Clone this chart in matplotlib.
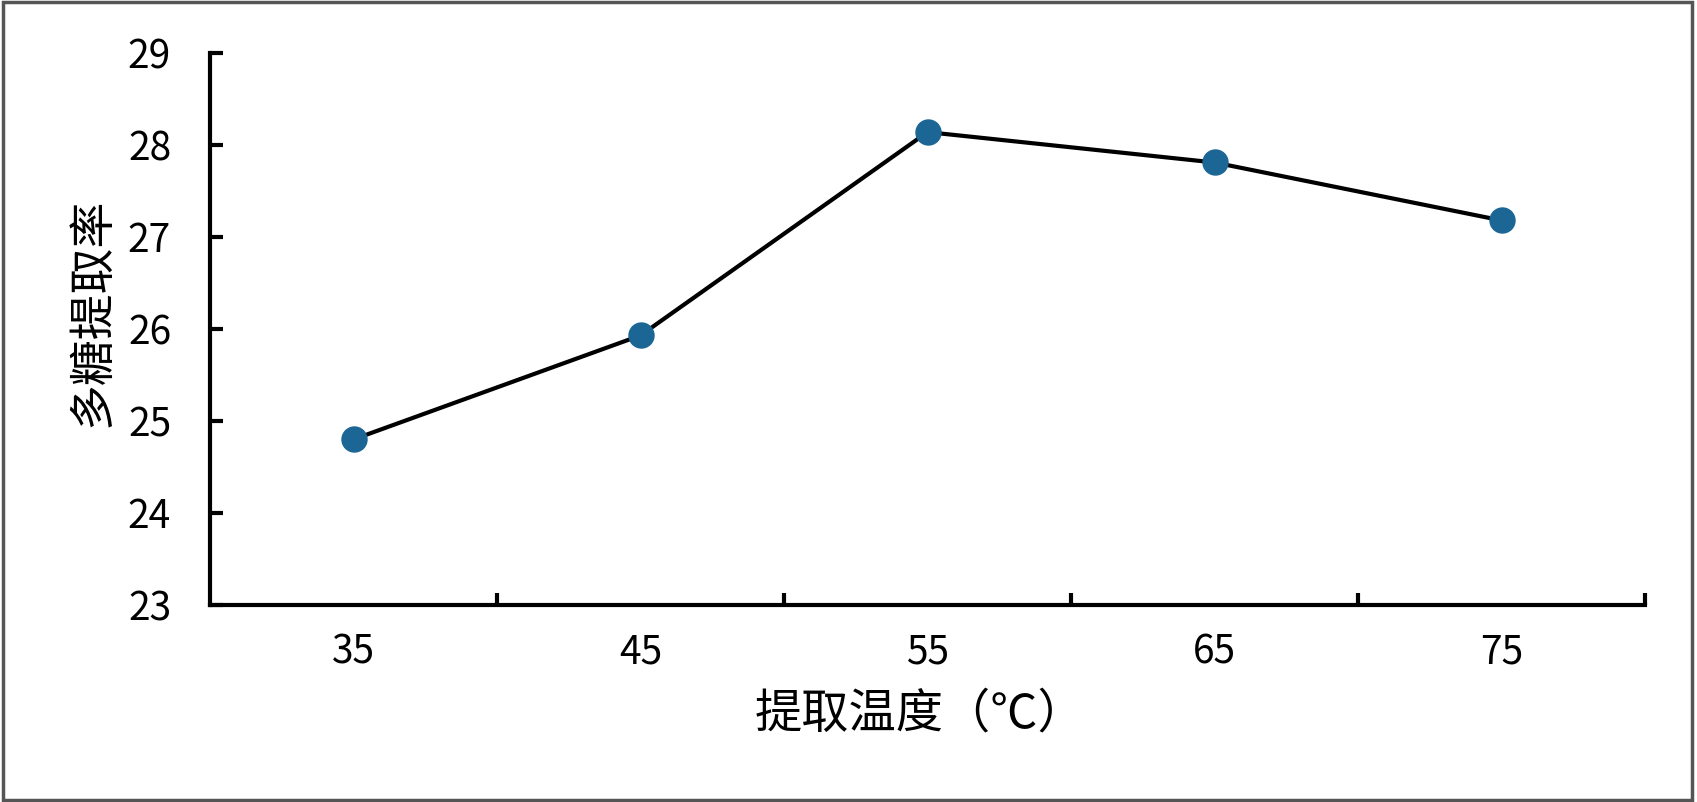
import matplotlib
matplotlib.use("Agg")
import matplotlib.pyplot as plt
from matplotlib.patches import Rectangle

plt.rcParams['font.family'] = ['Noto Sans CJK SC', 'DejaVu Sans']
plt.rcParams['font.weight'] = 'light'

categories = ["35", "45", "55", "65", "75"]
values = [24.80, 25.93, 28.14, 27.81, 27.18]
y_ticks = [23, 24, 25, 26, 27, 28, 29]
x_label = "提取温度（℃）"
y_label = "多糖提取率"

W, H = 1697, 802
fig = plt.figure(figsize=(W / 100, H / 100), dpi=100)
ax = fig.add_axes([210 / W, 1 - 605 / H, (1645 - 210) / W, (605 - 53) / H])

x = list(range(len(categories)))
ax.plot(x, values, color="black", lw=3.0, marker="o", markersize=18,
        markerfacecolor="#1b6694", markeredgecolor="#1b6694", zorder=3)

ax.set_xlim(-0.5, len(categories) - 0.5)
ax.set_ylim(y_ticks[0], y_ticks[-1])
ax.set_yticks(y_ticks)
ax.set_yticklabels([str(t) for t in y_ticks])

# category labels at centers (no tick marks), tick marks at boundaries
ax.set_xticks(x)
ax.set_xticklabels(categories)
ax.tick_params(axis="x", which="major", length=0, pad=20, labelsize=28)
ax.set_xticks([i + 0.5 for i in x], minor=True)
ax.tick_params(axis="x", which="minor", direction="in", length=9, width=3)
ax.tick_params(axis="y", direction="in", length=9, width=3, pad=28, labelsize=28)

for s in ["top", "right"]:
    ax.spines[s].set_visible(False)
for s in ["left", "bottom"]:
    ax.spines[s].set_linewidth(3)
    ax.spines[s].set_color("black")

fig.text(92 / W, 1 - 312 / H, y_label, rotation=90, ha="center", va="center", fontsize=33)
fig.text(920 / W, 1 - 714 / H, x_label, ha="center", va="center", fontsize=34)

fig.patches.append(Rectangle((0.002, 0.003), 0.995, 0.994, transform=fig.transFigure,
                             fill=False, edgecolor="#555555", lw=2.5))

fig.savefig("out.png", dpi=100, facecolor="white")
